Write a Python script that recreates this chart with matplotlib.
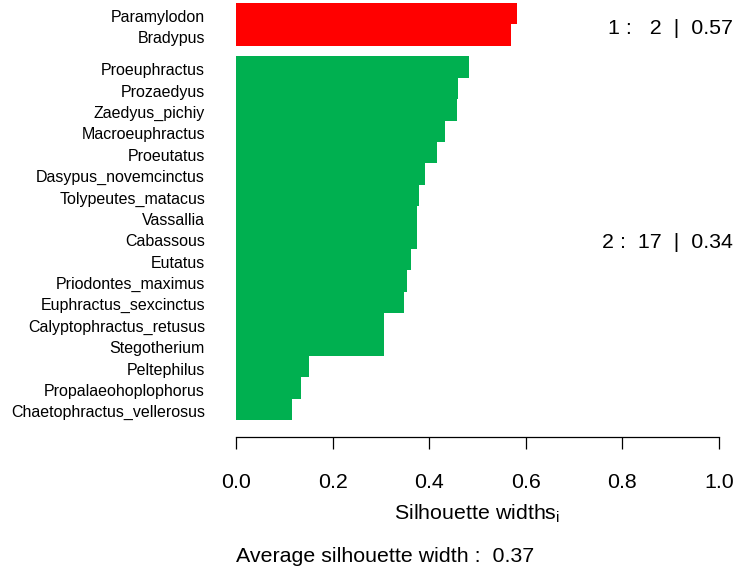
import matplotlib
matplotlib.use('Agg')
import matplotlib.pyplot as plt
from matplotlib.transforms import ScaledTranslation

plt.rcParams['font.family'] = ['Liberation Sans', 'DejaVu Sans']
plt.rcParams['mathtext.fontset'] = 'custom'
plt.rcParams['mathtext.rm'] = 'Liberation Sans'
plt.rcParams['mathtext.it'] = 'Liberation Sans:italic'

# ---- data ----
cluster1_names = ["Paramylodon", "Bradypus"]
cluster1_widths = [0.581, 0.569]
cluster2_names = ["Proeuphractus", "Prozaedyus", "Zaedyus_pichiy", "Macroeuphractus",
                  "Proeutatus", "Dasypus_novemcinctus", "Tolypeutes_matacus", "Vassallia",
                  "Cabassous", "Eutatus", "Priodontes_maximus", "Euphractus_sexcinctus",
                  "Calyptophractus_retusus", "Stegotherium", "Peltephilus",
                  "Propalaeohoplophorus", "Chaetophractus_vellerosus"]
cluster2_widths = [0.482, 0.460, 0.458, 0.433, 0.416, 0.391, 0.379, 0.375, 0.375,
                   0.362, 0.354, 0.348, 0.306, 0.306, 0.151, 0.134, 0.116]
cluster_labels = ["1 :   2  |  0.57", "2 :  17  |  0.34"]
avg_text = "Average silhouette width :  0.37"
x_ticks = [0.0, 0.2, 0.4, 0.6, 0.8, 1.0]
x_tick_labels = ["0.0", "0.2", "0.4", "0.6", "0.8", "1.0"]
colors = ["#FF0000", "#00B050"]

W, H = 735, 573
fig = plt.figure(figsize=(W / 100, H / 100), dpi=100)
ax = fig.add_axes([236 / W, 1 - 420 / H, 483 / W, 417 / H])

gap = 0.5
y1 = [i + 0.5 for i in range(len(cluster1_names))]
start2 = len(cluster1_names) + gap
y2 = [start2 + i + 0.5 for i in range(len(cluster2_names))]

ax.barh(y1, cluster1_widths, height=1.0, color=colors[0], linewidth=0)
ax.barh(y2, cluster2_widths, height=1.0, color=colors[1], linewidth=0)

total = start2 + len(cluster2_names)
ax.set_ylim(total, 0)
ax.set_xlim(0, 1)

for s in ['left', 'right', 'top']:
    ax.spines[s].set_visible(False)
ax.spines['bottom'].set_position(('outward', 12.2))
ax.spines['bottom'].set_bounds(0, 1)
ax.spines['bottom'].set_linewidth(0.9)

ax.set_xticks(x_ticks, x_tick_labels, fontsize=15.4)
ax.tick_params(axis='x', length=8.6, width=0.9, pad=17.5)

# row labels (names), placed at bar centres
ax.set_yticks([])
name_tr = ax.get_yaxis_transform() + ScaledTranslation(-31 / 100, -3.5 / 100, fig.dpi_scale_trans)
for yc, nm in zip(y1 + y2, cluster1_names + cluster2_names):
    ax.text(0, yc, nm, transform=name_tr, ha='right', va='center', fontsize=11.5, clip_on=False)

# cluster summary labels
c1 = len(cluster1_names) / 2
c2 = start2 + len(cluster2_names) / 2
for yc, lab in zip([c1, c2], cluster_labels):
    ax.text(1.029, yc + 0.18, lab, ha='right', va='center', fontsize=15.4, clip_on=False)

fig.text(477.5 / W, 1 - 520 / H, r"Silhouette widths$_\mathrm{i}$", ha='center',
         va='baseline', fontsize=15.4)
fig.text(236 / W, 1 - 562 / H, avg_text, ha='left', va='baseline', fontsize=15.4)

fig.savefig("out.png", dpi=100)
